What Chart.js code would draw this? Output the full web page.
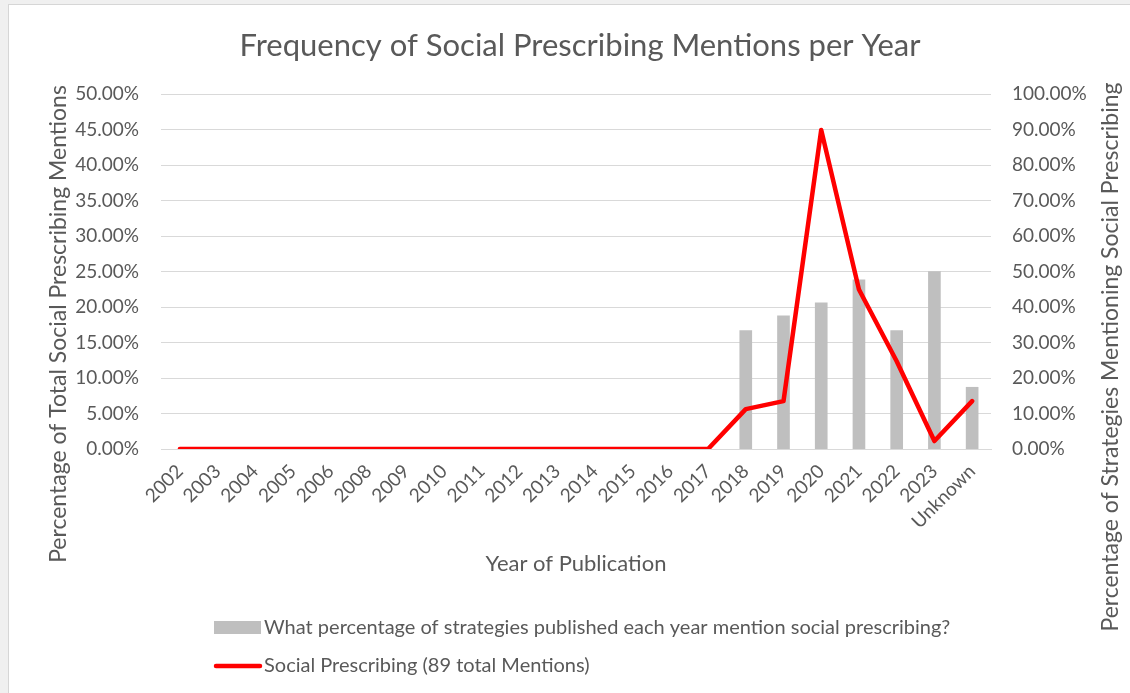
<!DOCTYPE html>
<html>
<head>
<meta charset="utf-8">
<script src="https://cdn.jsdelivr.net/npm/chart.js@4"></script>
<style>
html,body{margin:0;padding:0;background:#f0f0f0;}
#wrap{position:absolute;left:8px;top:4px;width:1122px;height:689px;background:#fff;border-left:1px solid #d6d6d6;border-top:1px solid #d6d6d6;}
#c{position:absolute;left:0;top:0;}
</style>
</head>
<body>
<div id="wrap"><canvas id="c" width="1122" height="689"></canvas></div>
<script>
const chartTitle = 'Frequency of Social Prescribing Mentions per Year';
const categories = ['2002','2003','2004','2005','2006','2008','2009','2010','2011','2012','2013','2014','2015','2016','2017','2018','2019','2020','2021','2022','2023','Unknown'];
const strategyShare = [null,null,null,null,null,null,null,null,null,null,null,null,null,null,null,33.33,37.5,41.18,47.62,33.33,50.0,17.39];
const mentionShare = [0,0,0,0,0,0,0,0,0,0,0,0,0,0,0,5.62,6.74,44.94,22.47,12.36,1.12,6.74];
const leftTicks = [0,5,10,15,20,25,30,35,40,45,50];
const rightTicks = [0,10,20,30,40,50,60,70,80,90,100];
const barLabel = 'What percentage of strategies published each year mention social prescribing?';
const lineLabel = 'Social Prescribing (89 total Mentions)';
const leftTitle = 'Percentage of Total Social Prescribing Mentions';
const rightTitle = 'Percentage of Strategies Mentioning Social Prescribing';
const xTitle = 'Year of Publication';

const FONT = 'Lato, "Open Sans", sans-serif';
const TXT = '#595959';
const OX = 8, OY = 4; // wrap offset

const textPlugin = {
  id: 'texts',
  afterDraw(chart) {
    const ctx = chart.ctx;
    const ca = chart.chartArea;
    ctx.save();
    ctx.fillStyle = TXT;
    ctx.textAlign = 'center';
    ctx.textBaseline = 'middle';
    // title
    ctx.font = '31px ' + FONT;
    ctx.fillText(chartTitle, 579 - OX, 45 - OY);
    // x title
    ctx.font = '22px ' + FONT;
    ctx.fillText(xTitle, (ca.left + ca.right) / 2, 563 - OY);
    // left / right titles
    ctx.font = '23px ' + FONT;
    ctx.save();
    ctx.translate(58 - OX, 323 - OY);
    ctx.rotate(-Math.PI / 2);
    ctx.fillText(leftTitle, 0, 0);
    ctx.restore();
    ctx.save();
    ctx.translate(1110 - OX, 356 - OY);
    ctx.rotate(-Math.PI / 2);
    ctx.fillText(rightTitle, 0, 0);
    ctx.restore();
    // legend
    ctx.textAlign = 'left';
    ctx.font = '20px ' + FONT;
    ctx.fillStyle = '#bfbfbf';
    ctx.fillRect(213 - OX, 620 - OY, 47, 13);
    ctx.fillStyle = TXT;
    ctx.fillText(barLabel, 263 - OX, 627 - OY);
    ctx.strokeStyle = '#ff0000';
    ctx.lineWidth = 4.5;
    ctx.lineCap = 'round';
    ctx.beginPath();
    ctx.moveTo(215 - OX, 665 - OY);
    ctx.lineTo(259 - OX, 665 - OY);
    ctx.stroke();
    ctx.fillText(lineLabel, 263 - OX, 665 - OY);
    ctx.restore();
  }
};

new Chart(document.getElementById('c'), {
  type: 'bar',
  data: {
    labels: categories,
    datasets: [
      {
        type: 'line',
        label: lineLabel,
        data: mentionShare,
        yAxisID: 'y',
        borderColor: '#ff0000',
        backgroundColor: '#ff0000',
        borderWidth: 4.5,
        pointRadius: 0,
        tension: 0,
        borderCapStyle: 'round',
        borderJoinStyle: 'round',
        order: 0
      },
      {
        type: 'bar',
        label: barLabel,
        data: strategyShare,
        yAxisID: 'y1',
        backgroundColor: '#bfbfbf',
        borderWidth: 0,
        barThickness: 12,
        order: 1
      }
    ]
  },
  options: {
    responsive: false,
    animation: false,
    events: [],
    layout: { padding: { top: 93 - OY, bottom: 0, left: 0, right: 0 } },
    plugins: { legend: { display: false }, title: { display: false }, tooltip: { enabled: false } },
    scales: {
      x: {
        offset: true,
        grid: { display: false },
        border: { display: true, color: '#d9d9d9' },
        ticks: { color: TXT, font: { family: FONT, size: 19 }, minRotation: 45, maxRotation: 45, autoSkip: false, padding: 3 },
        afterFit(s) { s.height = 689 - (448 - OY); }
      },
      y: {
        position: 'left',
        min: 0, max: 50,
        afterBuildTicks(s) { s.ticks = leftTicks.map(v => ({ value: v })); },
        grid: { color: '#d9d9d9', drawTicks: false },
        border: { display: false },
        ticks: { color: TXT, font: { family: FONT, size: 19 }, padding: 22, callback: v => v.toFixed(2) + '%' },
        afterFit(s) { s.width = 160 - OX; }
      },
      y1: {
        position: 'right',
        min: 0, max: 100,
        afterBuildTicks(s) { s.ticks = rightTicks.map(v => ({ value: v })); },
        grid: { display: false, drawTicks: false },
        border: { display: false },
        ticks: { color: TXT, font: { family: FONT, size: 19 }, padding: 21, callback: v => v.toFixed(2) + '%' },
        afterFit(s) { s.width = 1122 - (990 - OX); }
      }
    }
  },
  plugins: [textPlugin]
});
</script>
</body>
</html>
